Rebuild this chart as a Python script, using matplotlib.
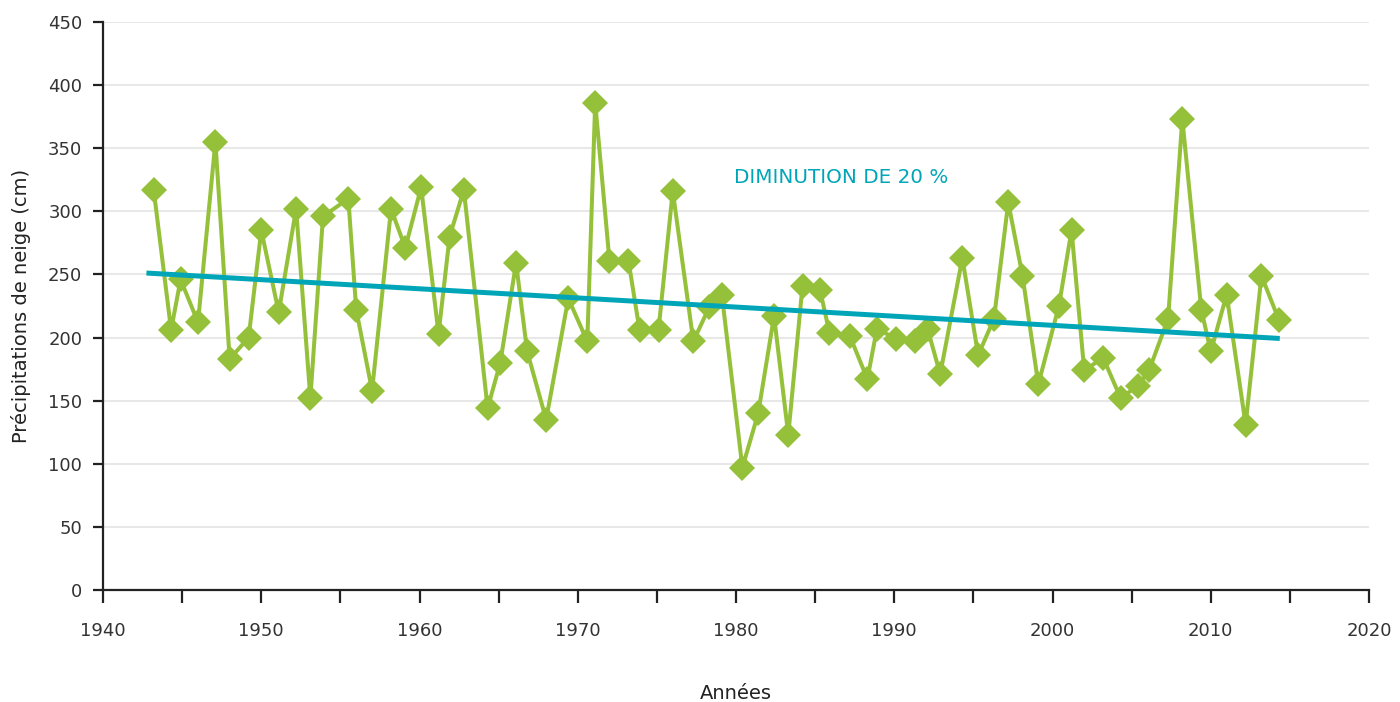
import numpy as np
import matplotlib.pyplot as plt

# Snowfall readings (position in years, value in cm)
years = [1943.2, 1944.3, 1944.9, 1946.0, 1947.1, 1948.0, 1949.2, 1950.0, 1951.1, 1952.2,
         1953.1, 1953.9, 1955.5, 1956.0, 1957.0, 1958.2, 1959.1, 1960.1, 1961.2, 1961.9,
         1962.8, 1964.3, 1965.1, 1966.1, 1966.8, 1968.0, 1969.4, 1970.6, 1971.1, 1972.0,
         1973.2, 1973.9, 1975.1, 1976.0, 1977.3, 1978.3, 1979.1, 1980.4, 1981.4, 1982.4,
         1983.3, 1984.2, 1985.3, 1985.9, 1987.2, 1988.3, 1988.9, 1990.1, 1991.3, 1992.1,
         1992.9, 1994.3, 1995.3, 1996.3, 1997.2, 1998.1, 1999.1, 2000.4, 2001.2, 2002.0,
         2003.2, 2004.3, 2005.4, 2006.1, 2007.3, 2008.2, 2009.4, 2010.0, 2011.0, 2012.2,
         2013.2, 2014.3]
snow = [317, 206, 246, 212, 355, 183, 200, 285, 220, 302,
        152, 296, 310, 222, 158, 302, 271, 319, 203, 280,
        317, 144, 180, 259, 189, 135, 231, 197, 386, 261,
        261, 206, 206, 316, 197, 224, 234, 97, 140, 217,
        123, 241, 238, 204, 201, 167, 207, 199, 197, 207,
        171, 263, 186, 215, 307, 249, 163, 225, 285, 174,
        184, 152, 162, 174, 215, 373, 222, 189, 234, 131,
        249, 214]

# Trend line end points
trend_x = [1942.9, 2014.2]
trend_y = [251, 199.4]

green = '#95c13a'
teal = '#00a6b8'

fig = plt.figure(figsize=(14, 7.02), dpi=100)
ax = fig.add_axes([0.0736, 0.1595, 0.9043, 0.8092])

ax.set_xlim(1940, 2020)
ax.set_ylim(0, 450)

ax.plot(years, snow, color=green, lw=2.9, solid_joinstyle='round', zorder=3,
        marker='D', markersize=13, markeredgewidth=0)
ax.plot(trend_x, trend_y, color=teal, lw=3.6, zorder=5)

ax.text(1979.9, 327, 'DIMINUTION DE 20 %', color=teal, fontsize=14.3, va='center', ha='left')

ax.set_xticks(np.arange(1940, 2021, 10))
ax.set_xticks(np.arange(1945, 2020, 10), minor=True)
ax.set_yticks(np.arange(0, 451, 50))
ax.yaxis.grid(True, color='#e8e8e8', lw=1.5)
ax.set_axisbelow(True)

for s in ['top', 'right']:
    ax.spines[s].set_visible(False)
for s in ['left', 'bottom']:
    ax.spines[s].set_color('#222222')
    ax.spines[s].set_linewidth(1.6)

ax.tick_params(axis='x', which='both', direction='out', length=9, width=1.6,
               color='#222222', labelsize=13, labelcolor='#333333', pad=14)
ax.tick_params(axis='y', direction='out', length=7, width=1.6, color='#222222',
               labelsize=13, labelcolor='#333333', pad=8)

ax.set_xlabel('Années', fontsize=14, color='#222222', labelpad=32)
ax.set_ylabel('Précipitations de neige (cm)', fontsize=14, color='#222222', labelpad=12)

fig.savefig('out.png', dpi=100)
